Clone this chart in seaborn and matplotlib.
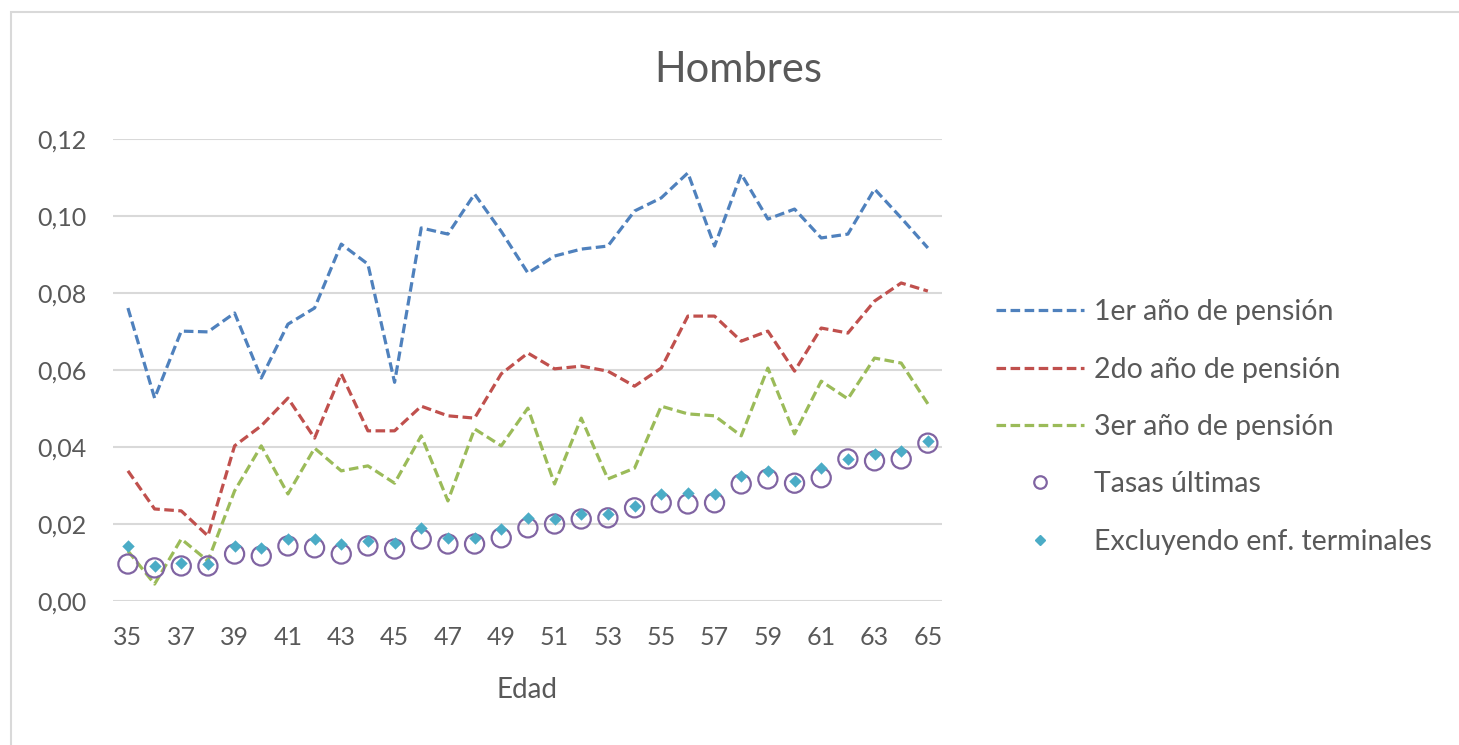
import numpy as np
import pandas as pd
import matplotlib
matplotlib.use("Agg")
import matplotlib.pyplot as plt
from matplotlib.lines import Line2D
from matplotlib.patches import Rectangle
import seaborn as sns

edad = list(range(35, 66))
primer = [0.0761, 0.0527, 0.0701, 0.0699, 0.0748, 0.0579, 0.0719, 0.0761, 0.0927, 0.0875,
          0.0568, 0.0969, 0.0953, 0.1057, 0.0960, 0.0852, 0.0896, 0.0914, 0.0922, 0.1013,
          0.1047, 0.1112, 0.0922, 0.1109, 0.0992, 0.1018, 0.0943, 0.0953, 0.1070, 0.0995, 0.0917]
segundo = [0.0338, 0.0239, 0.0234, 0.0169, 0.0403, 0.0455, 0.0527, 0.0423, 0.0590, 0.0442,
           0.0442, 0.0506, 0.0481, 0.0475, 0.0590, 0.0644, 0.0603, 0.0610, 0.0597, 0.0558,
           0.0605, 0.0740, 0.0740, 0.0675, 0.0701, 0.0597, 0.0709, 0.0696, 0.0779, 0.0826, 0.0805]
tercer = [0.0130, 0.0044, 0.0161, 0.0104, 0.0286, 0.0403, 0.0278, 0.0397, 0.0338, 0.0351,
          0.0306, 0.0429, 0.0260, 0.0447, 0.0403, 0.0501, 0.0304, 0.0475, 0.0317, 0.0345,
          0.0506, 0.0486, 0.0481, 0.0429, 0.0605, 0.0434, 0.0571, 0.0525, 0.0631, 0.0618, 0.0512]
tasas = [0.0096, 0.0086, 0.0091, 0.0091, 0.0122, 0.0117, 0.0143, 0.0138, 0.0122, 0.0143,
         0.0135, 0.0161, 0.0148, 0.0148, 0.0164, 0.0190, 0.0200, 0.0213, 0.0216, 0.0242,
         0.0255, 0.0252, 0.0255, 0.0304, 0.0317, 0.0306, 0.0320, 0.0369, 0.0364, 0.0369, 0.0410]
excl = [0.0143, 0.0091, 0.0099, 0.0096, 0.0143, 0.0138, 0.0161, 0.0161, 0.0148, 0.0156,
        0.0151, 0.0190, 0.0164, 0.0164, 0.0187, 0.0216, 0.0213, 0.0226, 0.0226, 0.0247,
        0.0278, 0.0281, 0.0278, 0.0325, 0.0338, 0.0312, 0.0345, 0.0369, 0.0382, 0.0390, 0.0416]

labels = ["1er año de pensión", "2do año de pensión", "3er año de pensión",
          "Tasas últimas", "Excluyendo enf. terminales"]
xticks = list(range(35, 66, 2))
yticks = [0.00, 0.02, 0.04, 0.06, 0.08, 0.10, 0.12]
ytick_labels = ["0,00", "0,02", "0,04", "0,06", "0,08", "0,10", "0,12"]

c_blue = "#4F81BD"
c_red = "#C0504D"
c_green = "#9BBB59"
c_purple = "#8064A2"
c_teal = "#4BACC6"

sns.set_theme(style="white")
plt.rcParams['font.family'] = ['Lato', 'DejaVu Sans']
txt = "#595959"

W, H = 1459, 745
fig = plt.figure(figsize=(W / 100, H / 100), dpi=100)
fig.patches.append(Rectangle((11 / W, -0.1), 1.2, 1 - 12 / H + 0.1, transform=fig.transFigure,
                             fill=False, edgecolor="#D9D9D9", linewidth=1.5, zorder=0))
ax = fig.add_axes([113 / W, (H - 601) / H, (942 - 113) / W, (601 - 139) / H])

df = pd.DataFrame({"edad": edad, "p1": primer, "p2": segundo, "p3": tercer,
                   "tasas": tasas, "excl": excl})
dash = (3.0, 1.4)
for col, c in [("p1", c_blue), ("p2", c_red), ("p3", c_green)]:
    sns.lineplot(data=df, x="edad", y=col, ax=ax, color=c, linewidth=2.3,
                 dashes=False, zorder=3)
    ax.lines[-1].set_dashes(dash)
sns.scatterplot(data=df, x="edad", y="tasas", ax=ax, s=190, marker="o",
                facecolor="none", edgecolor=c_purple, linewidth=1.6, zorder=4)
sns.scatterplot(data=df, x="edad", y="excl", ax=ax, s=40, marker="D",
                color=c_teal, edgecolor=c_teal, linewidth=0, zorder=5)

ax.set_xlim(34.44, 65.53)
ax.set_ylim(0, 0.12)
ax.set_yticks(yticks)
ax.set_yticklabels(ytick_labels)
ax.set_xticks(xticks)
ax.set_xticklabels([str(v) for v in xticks])
ax.grid(axis="y", color="#D9D9D9", linewidth=1.5)
ax.grid(axis="x", visible=False)
for s in ax.spines.values():
    s.set_visible(False)
ax.tick_params(axis="both", labelsize=18, colors=txt, length=0)
ax.tick_params(axis="y", pad=19)
ax.tick_params(axis="x", pad=18)
ax.set_xlabel("Edad", fontsize=20, color=txt, labelpad=20)
ax.set_ylabel("")

fig.text(738 / W, 1 - 70 / H, "Hombres", ha="center", va="center", fontsize=30, color=txt)

handles = [
    Line2D([], [], color=c_blue, linewidth=2.3, dashes=dash),
    Line2D([], [], color=c_red, linewidth=2.3, dashes=dash),
    Line2D([], [], color=c_green, linewidth=2.3, dashes=dash),
    Line2D([], [], linestyle="none", marker="o", markersize=9, markerfacecolor="none",
           markeredgecolor=c_purple, markeredgewidth=1.6),
    Line2D([], [], linestyle="none", marker="D", markersize=5, color=c_teal),
]
fig.legend(handles, labels, loc="center left", bbox_to_anchor=(982 / W, 1 - 427 / H),
           frameon=False, fontsize=20.5, labelcolor=txt, handlelength=3.1,
           handletextpad=0.35, labelspacing=1.1, borderpad=0)

fig.savefig("out.png", dpi=100)
